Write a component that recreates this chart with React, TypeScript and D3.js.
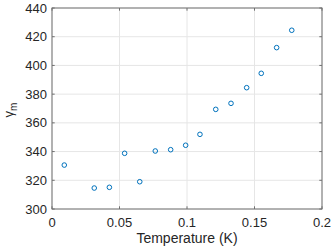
import * as d3 from 'd3'

const temps = [0.0091, 0.0313, 0.0425, 0.0538, 0.065, 0.0765, 0.0879, 0.099, 0.1096, 0.1213, 0.1326, 0.1442, 0.155, 0.1664, 0.1776]
const gammaM = [330.6, 314.6, 315.1, 338.8, 319.0, 340.4, 341.3, 344.4, 352.0, 369.4, 373.6, 384.5, 394.5, 412.4, 424.5]
const xTicks = [0, 0.05, 0.1, 0.15, 0.2]
const yTicks = [300, 320, 340, 360, 380, 400, 420, 440]

const W = 332
const H = 251
const left = 52
const right = 322
const top = 8
const bottom = 209
const textColor = '#262626'
const boxColor = '#707070'
const font = 'Helvetica, Arial, "Liberation Sans", sans-serif'

export default function App() {
  const x = d3.scaleLinear().domain([0, 0.2]).range([left, right])
  const y = d3.scaleLinear().domain([300, 440]).range([bottom, top])
  const tick = 2.7
  return (
    <svg width={W} height={H} style={{ position: 'absolute', left: 0, top: 0 }} fontFamily={font}>
      <rect x={0} y={0} width={W} height={H} fill="#fff" />
      {/* grid */}
      {xTicks.map((t) => (
        <line key={'gx' + t} x1={x(t)} x2={x(t)} y1={top} y2={bottom} stroke="#e6e6e6" strokeWidth={1} />
      ))}
      {yTicks.map((t) => (
        <line key={'gy' + t} x1={left} x2={right} y1={y(t)} y2={y(t)} stroke="#e6e6e6" strokeWidth={1} />
      ))}
      {/* ticks */}
      {xTicks.map((t) => (
        <g key={'tx' + t} stroke={boxColor} strokeWidth={1}>
          <line x1={x(t)} x2={x(t)} y1={bottom} y2={bottom - tick} />
          <line x1={x(t)} x2={x(t)} y1={top} y2={top + tick} />
        </g>
      ))}
      {yTicks.map((t) => (
        <g key={'ty' + t} stroke={boxColor} strokeWidth={1}>
          <line x1={left} x2={left + tick} y1={y(t)} y2={y(t)} />
          <line x1={right} x2={right - tick} y1={y(t)} y2={y(t)} />
        </g>
      ))}
      {/* box */}
      <rect x={left} y={top} width={right - left} height={bottom - top} fill="none" stroke={boxColor} strokeWidth={1} />
      {/* points */}
      {temps.map((t, i) => (
        <circle key={i} cx={x(t)} cy={y(gammaM[i])} r={2.3} fill="none" stroke="#0072BD" strokeWidth={1} />
      ))}
      {/* tick labels */}
      {xTicks.map((t) => (
        <text key={'lx' + t} x={x(t)} y={227} textAnchor="middle" fontSize={13} fill={textColor}>
          {t}
        </text>
      ))}
      {yTicks.map((t) => (
        <text key={'ly' + t} x={47} y={y(t) + 4.6} textAnchor="end" fontSize={13} fill={textColor}>
          {t}
        </text>
      ))}
      <text x={(left + right) / 2} y={243} textAnchor="middle" fontSize={14} fill={textColor}>
        Temperature (K)
      </text>
      <text transform="translate(13,110) rotate(-90)" textAnchor="middle" fontSize={13} fill={textColor}>
        γ<tspan fontSize={10} dy={4}>m</tspan>
      </text>
    </svg>
  )
}
